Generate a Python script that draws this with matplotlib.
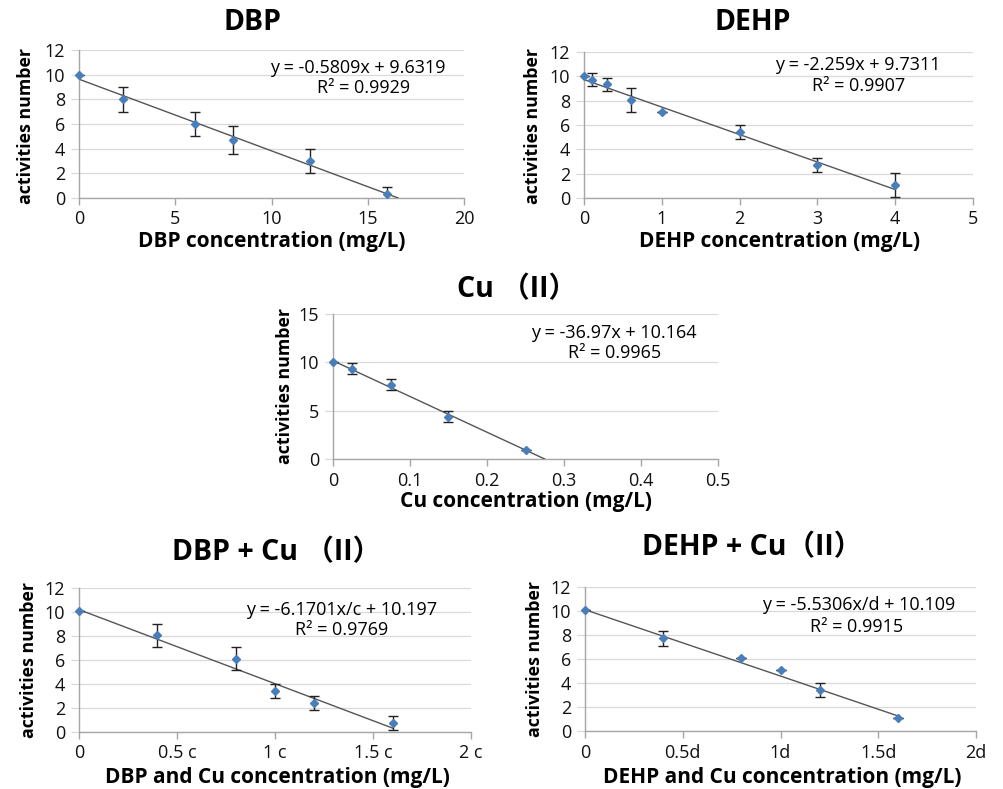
import matplotlib
matplotlib.use("Agg")
import matplotlib.pyplot as plt
from matplotlib import font_manager
import numpy as np

plt.rcParams['font.family'] = ['Open Sans', 'Noto Sans CJK SC', 'DejaVu Sans']

W, H = 1004, 789

# ---------------- data ----------------
dbp_x = [0, 2.3, 6, 8, 12, 16]
dbp_y = [10, 8.0, 6.0, 4.7, 3.0, 0.33]
dbp_err = [0, 1.0, 1.0, 1.15, 1.0, 0.6]
dbp_fit = (-0.5809, 9.6319)

dehp_x = [0, 0.1, 0.3, 0.6, 1, 2, 3, 4]
dehp_y = [10, 9.72, 9.35, 8.04, 7.06, 5.4, 2.72, 1.04]
dehp_err = [0, 0.53, 0.55, 1.0, 0.0, 0.57, 0.55, 0.98]
dehp_fit = (-2.259, 9.7311)

cu_x = [0, 0.025, 0.075, 0.15, 0.25]
cu_y = [10.05, 9.35, 7.68, 4.38, 0.97]
cu_err = [0, 0.6, 0.57, 0.6, 0.0]
cu_fit = (-36.97, 10.164)

dbpcu_x = [0, 0.4, 0.8, 1.0, 1.2, 1.6]
dbpcu_y = [10.05, 8.05, 6.1, 3.42, 2.42, 0.75]
dbpcu_err = [0, 0.96, 0.97, 0.6, 0.6, 0.56]
dbpcu_fit = (-6.1701, 10.197)

dehpcu_x = [0, 0.4, 0.8, 1.0, 1.2, 1.6]
dehpcu_y = [10.05, 7.71, 6.08, 5.09, 3.4, 1.05]
dehpcu_err = [0, 0.6, 0.0, 0.0, 0.57, 0.0]
dehpcu_fit = (-5.5306, 10.109)

titles = ["DBP", "DEHP", "Cu \uff08II\uff09", "DBP + Cu \uff08II\uff09", "DEHP + Cu\uff08II\uff09"]
xlabels = ["DBP concentration (mg/L)", "DEHP concentration (mg/L)", "Cu concentration (mg/L)",
           "DBP and Cu concentration (mg/L)", "DEHP and Cu concentration (mg/L)"]
eqs = ["y = -0.5809x + 9.6319", "y = -2.259x + 9.7311", "y = -36.97x + 10.164",
       "y = -6.1701x/c + 10.197", "y = -5.5306x/d + 10.109"]
r2s = ["R\u00b2 = 0.9929", "R\u00b2 = 0.9907", "R\u00b2 = 0.9965", "R\u00b2 = 0.9769", "R\u00b2 = 0.9915"]

xt_dbp = [0, 5, 10, 15, 20]
xt_dehp = [0, 1, 2, 3, 4, 5]
xt_cu = [0, 0.1, 0.2, 0.3, 0.4, 0.5]
xt_cu_lbl = ["0", "0.1", "0.2", "0.3", "0.4", "0.5"]
xt_c = [0, 0.5, 1.0, 1.5, 2.0]
xt_c_lbl = ["0", "0.5 c", "1 c", "1.5 c", "2 c"]
xt_d_lbl = ["0", "0.5d", "1d", "1.5d", "2d"]
yt_12 = [0, 2, 4, 6, 8, 10, 12]
yt_15 = [0, 5, 10, 15]

# ---------------- layout (pixel boxes: left, right, top, bottom) ----------------
boxes = [(79, 464, 50, 198), (584, 973, 52, 198), (333, 718, 314, 459),
         (79, 471, 588, 732), (585, 976, 587, 731)]
title_pos = [(253, 22), (753, 22), (517, 290), (277, 553), (752, 548)]
xlabel_pos = [(272, 241), (780, 241), (526, 501), (277, 777), (782, 777)]
ylabel_pos = [(26, 126), (533, 126), (285, 386), (29, 660), (535, 659)]
eq_pos = [(358, 68), (858, 65), (614, 333), (342, 610), (859, 605)]
r2_pos = [(364, 88), (859, 86), (615, 353), (342, 630), (857, 627)]

installed = {f.name for f in font_manager.fontManager.ttflist}
ylab_family = ['Liberation Sans Narrow'] if 'Liberation Sans Narrow' in installed else ['Open Sans']
ylab_size = 14.5 if ylab_family[0] == 'Liberation Sans Narrow' else 12.8

fig = plt.figure(figsize=(W / 100, H / 100), dpi=100)

def fx(px):
    return px / W

def fy(py):
    return 1 - py / H

series = [
    (dbp_x, dbp_y, dbp_err, dbp_fit, (0, 20), xt_dbp, None, (0, 12), yt_12, True),
    (dehp_x, dehp_y, dehp_err, dehp_fit, (0, 5), xt_dehp, None, (0, 12), yt_12, False),
    (cu_x, cu_y, cu_err, cu_fit, (0, 0.5), xt_cu, xt_cu_lbl, (0, 15), yt_15, True),
    (dbpcu_x, dbpcu_y, dbpcu_err, dbpcu_fit, (0, 2), xt_c, xt_c_lbl, (0, 12), yt_12, False),
    (dehpcu_x, dehpcu_y, dehpcu_err, dehpcu_fit, (0, 2), xt_c, xt_d_lbl, (0, 12), yt_12, False),
]

grid_c = '#d9d9d9'
axis_c = '#a6a6a6'
pt_c = '#4a7ebb'

for i, (xs, ys, es, fit, xlim, xt, xtl, ylim, yt, to_root) in enumerate(series):
    l, r, t, b = boxes[i]
    ax = fig.add_axes([fx(l), fy(b), (r - l) / W, (b - t) / H])
    ax.set_xlim(*xlim)
    ax.set_ylim(*ylim)
    ax.set_xticks(xt)
    if xtl is not None:
        ax.set_xticklabels(xtl)
    else:
        ax.set_xticklabels([f"{v:g}" for v in xt])
    ax.set_yticks(yt)
    ax.yaxis.grid(True, color=grid_c, lw=0.9)
    ax.set_axisbelow(True)
    for s in ['top', 'right']:
        ax.spines[s].set_visible(False)
    for s in ['left', 'bottom']:
        ax.spines[s].set_color(axis_c)
        ax.spines[s].set_linewidth(1.0)
    ax.tick_params(axis='x', colors=axis_c, length=5, width=1.0, labelsize=13,
                   labelcolor='#111111', pad=4)
    ax.tick_params(axis='y', colors=grid_c, length=6, width=0.9, labelsize=13,
                   labelcolor='#111111', pad=4)

    m, c0 = fit
    x_end = -c0 / m if to_root else max(xs)
    xx = np.array([0.0, x_end])
    ax.plot(xx, m * xx + c0, color='#555555', lw=1.0, zorder=3)

    ax.errorbar(xs, ys, yerr=es, fmt='none', ecolor='#222222', elinewidth=1.0,
                capsize=3.8, capthick=1.0, zorder=4)
    ax.plot(xs, ys, linestyle='none', marker='D', ms=3.6, color=pt_c,
            zorder=5, clip_on=False)

    fig.text(fx(title_pos[i][0]), fy(title_pos[i][1]), titles[i], ha='center', va='center',
             fontsize=20.5, fontweight='bold')
    fig.text(fx(xlabel_pos[i][0]), fy(xlabel_pos[i][1]), xlabels[i], ha='center', va='center',
             fontsize=15, fontweight='bold')
    fig.text(fx(ylabel_pos[i][0]), fy(ylabel_pos[i][1]), "activities number", ha='center',
             va='center', rotation=90, fontsize=ylab_size, fontweight='bold',
             family=ylab_family)
    fig.text(fx(eq_pos[i][0]), fy(eq_pos[i][1]), eqs[i], ha='center', va='center',
             fontsize=13)
    fig.text(fx(r2_pos[i][0]), fy(r2_pos[i][1]), r2s[i], ha='center', va='center',
             fontsize=13)

fig.savefig("out.png", dpi=100)
